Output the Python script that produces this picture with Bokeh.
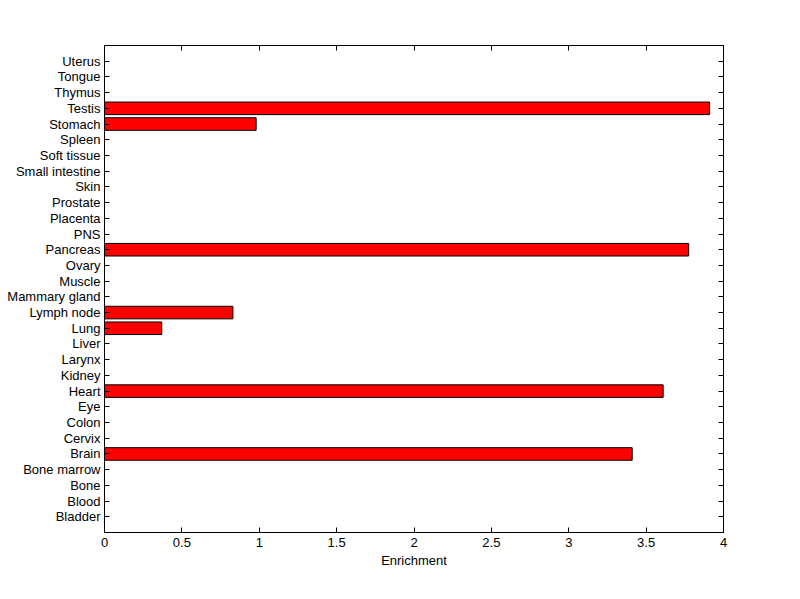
from bokeh.plotting import figure
from bokeh.models import FactorRange, Range1d, LinearAxis, CategoricalAxis, FixedTicker, ColumnDataSource
from bokeh.embed import file_html
from bokeh.resources import INLINE

tissues = ["Bladder", "Blood", "Bone", "Bone marrow", "Brain", "Cervix", "Colon", "Eye",
           "Heart", "Kidney", "Larynx", "Liver", "Lung", "Lymph node", "Mammary gland",
           "Muscle", "Ovary", "Pancreas", "PNS", "Placenta", "Prostate", "Skin",
           "Small intestine", "Soft tissue", "Spleen", "Stomach", "Testis", "Thymus",
           "Tongue", "Uterus"]
enrichment = [0, 0, 0, 0, 3.41, 0, 0, 0,
              3.61, 0, 0, 0, 0.37, 0.83, 0,
              0, 0, 3.775, 0, 0, 0, 0,
              0, 0, 0, 0.98, 3.91, 0,
              0, 0]
x_ticks = [0, 0.5, 1, 1.5, 2, 2.5, 3, 3.5, 4]
x_tick_labels = ["0", "0.5", "1", "1.5", "2", "2.5", "3", "3.5", "4"]

bar_tissues = [t for t, v in zip(tissues, enrichment) if v > 0]
bar_values = [v for v in enrichment if v > 0]
src = ColumnDataSource(dict(y=bar_tissues, right=bar_values))

FONT = "Liberation Sans"

p = figure(width=800, height=599, output_backend="svg", toolbar_location=None,
           y_range=FactorRange(*tissues, range_padding=0.5, range_padding_units="absolute"),
           x_range=Range1d(0, 4),
           min_border_left=104, min_border_right=77, min_border_top=45, min_border_bottom=67)

p.hbar(y="y", left=0, right="right", height=0.8, source=src,
       fill_color="#ff0000", line_color="black", line_width=1)

p.xgrid.visible = False
p.ygrid.visible = False
p.outline_line_color = "black"
p.outline_line_width = 1
p.background_fill_color = "white"
p.border_fill_color = "white"

overrides = {t: l for t, l in zip(x_ticks, x_tick_labels)}

xa = p.xaxis[0]
xa.ticker = FixedTicker(ticks=x_ticks)
xa.major_label_overrides = overrides
xa.major_tick_in = 5
xa.major_tick_out = 0
xa.minor_tick_in = 0
xa.minor_tick_out = 0
xa.axis_line_color = "black"
xa.major_tick_line_color = "black"
xa.major_label_text_font = FONT
xa.major_label_text_font_size = "13px"
xa.major_label_text_color = "black"
xa.major_label_standoff = 5
xa.axis_label = "Enrichment"
xa.axis_label_text_font = FONT
xa.axis_label_text_font_size = "13px"
xa.axis_label_text_font_style = "normal"
xa.axis_label_text_color = "black"
xa.axis_label_standoff = 3

ya = p.yaxis[0]
ya.major_tick_in = 5
ya.major_tick_out = 0
ya.axis_line_color = "black"
ya.major_tick_line_color = "black"
ya.major_label_text_font = FONT
ya.major_label_text_font_size = "13px"
ya.major_label_text_color = "black"
ya.major_label_standoff = 4

top = LinearAxis(ticker=FixedTicker(ticks=x_ticks), major_tick_in=5, major_tick_out=0,
                 minor_tick_in=0, minor_tick_out=0,
                 major_label_text_font_size="0px", major_label_text_color=None,
                 axis_line_color="black", major_tick_line_color="black", major_label_standoff=0)
p.add_layout(top, "above")

right = CategoricalAxis(major_tick_in=5, major_tick_out=0,
                        major_label_text_font_size="0px", major_label_text_color=None,
                        axis_line_color="black", major_tick_line_color="black", major_label_standoff=0)
p.add_layout(right, "right")

open("out.html", "w").write(file_html(p, INLINE))
